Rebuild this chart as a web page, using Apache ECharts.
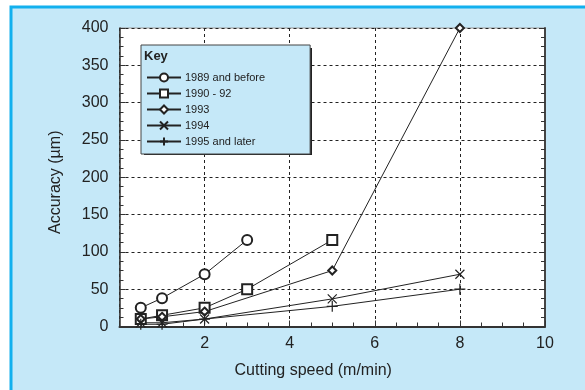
<!DOCTYPE html>
<html>
<head>
<meta charset="utf-8">
<script src="https://cdn.jsdelivr.net/npm/echarts@6/dist/echarts.min.js"></script>
<style>
  html, body { margin: 0; padding: 0; background: #fff; }
  #chart { width: 585px; height: 390px; }
</style>
</head>
<body>
<div id="chart"></div>
<script>
// data
const names = ['1989 and before', '1990 - 92', '1993', '1994', '1995 and later'];
const speed1989 = [0.5, 1, 2, 3];
const acc1989 = [25, 38, 70, 116];
const speed1990 = [0.5, 1, 2, 3, 5];
const acc1990 = [10, 15, 25, 50, 116];
const speed1993 = [0.5, 1, 2, 5, 8];
const acc1993 = [10, 13, 20, 75, 400];
const speed1994 = [0.5, 1, 2, 5, 8];
const acc1994 = [5, 5, 10, 37, 70];
const speed1995 = [0.5, 1, 2, 5, 8];
const acc1995 = [3, 3, 10, 27, 50];

const font = "'Liberation Sans', Arial, sans-serif";
const ink = '#222';
const paleBlue = '#c5e8f8';
const pair = (xs, ys) => xs.map((x, i) => [x, ys[i]]);

// X and + drawn as stroked paths
const crossPath = 'path://M0,0L10,10M10,0L0,10';
const plusPath = 'path://M5,0L5,10M0,5L10,5';

function makeSeries(name, data, symbol, size, stroked) {
  return {
    name: name,
    type: 'line',
    data: data,
    symbol: symbol,
    symbolSize: size,
    showAllSymbol: true,
    lineStyle: { color: ink, width: 1 },
    itemStyle: stroked
      ? { color: 'transparent', borderColor: ink, borderWidth: 1.2 }
      : { color: ink, borderColor: ink, borderWidth: 1 },
    emphasis: { disabled: true },
    z: 3
  };
}

const chart = echarts.init(document.getElementById('chart'));

const option = {
  animation: false,
  textStyle: { fontFamily: font },
  graphic: [
    {
      type: 'rect',
      z: -10,
      shape: { x: 11, y: 7, width: 700, height: 500 },
      style: { fill: paleBlue, stroke: '#12b0ee', lineWidth: 3 }
    },
    {
      // solid drop shadow of the key box
      type: 'rect',
      z: 8,
      shape: { x: 144, y: 48, width: 168, height: 107 },
      style: { fill: '#222' }
    },
    {
      type: 'text',
      left: 144,
      top: 50,
      z: 100,
      style: { text: 'Key', font: 'bold 13px ' + font, fill: ink }
    }
  ],
  grid: {
    left: 119.5,
    right: 40,
    top: 28,
    bottom: 63.5,
    show: true,
    backgroundColor: '#fff',
    borderColor: '#999',
    borderWidth: 1
  },
  legend: {
    orient: 'vertical',
    left: 141,
    top: 45,
    z: 10,
    padding: [27, 45, 7, 5],
    itemWidth: 34,
    itemHeight: 10,
    itemGap: 5,
    backgroundColor: paleBlue,
    borderColor: '#444',
    borderWidth: 1,
    selectedMode: false,
    textStyle: { fontFamily: font, fontSize: 11, color: ink, padding: [0, 0, 0, -1] },
    data: names
  },
  xAxis: [
    {
      type: 'value',
      min: 0,
      max: 10,
      interval: 2,
      name: 'Cutting speed (m/min)',
      nameLocation: 'middle',
      nameGap: 36,
      nameTextStyle: { fontSize: 16, color: ink, padding: [0, 38, 0, 0] },
      axisLine: { lineStyle: { color: '#333', width: 2 } },
      axisTick: { inside: true, length: 6, lineStyle: { color: '#333' } },
      minorTick: { show: true, splitNumber: 4, length: 4, lineStyle: { color: '#333' } },
      axisLabel: {
        fontSize: 16,
        color: ink,
        margin: 9,
        formatter: v => (v === 0 ? '' : v)
      },
      splitLine: { show: true, lineStyle: { color: ink, type: [3, 3], width: 1 } }
    }
  ],
  yAxis: [
    {
      type: 'value',
      min: 0,
      max: 400,
      interval: 50,
      name: 'Accuracy (µm)',
      nameLocation: 'middle',
      nameGap: 56,
      nameTextStyle: { fontSize: 16, color: ink, padding: [0, 0, 0, -10] },
      axisLine: { show: true, lineStyle: { color: '#333', width: 1.5 } },
      axisTick: { show: true, inside: true, length: 6, lineStyle: { color: '#333' } },
      minorTick: { show: true, splitNumber: 4, length: 4, lineStyle: { color: '#333' } },
      axisLabel: { fontSize: 16, color: ink, margin: 11 },
      splitLine: { show: true, lineStyle: { color: ink, type: [3, 3], width: 1 } }
    },
    {
      type: 'value',
      min: 0,
      max: 400,
      interval: 50,
      position: 'right',
      axisLine: { show: true, lineStyle: { color: '#444', width: 2 } },
      axisTick: { show: true, inside: true, length: 6, lineStyle: { color: '#333' } },
      minorTick: { show: true, splitNumber: 4, length: 4, lineStyle: { color: '#333' } },
      axisLabel: { show: false },
      splitLine: { show: false }
    }
  ],
  series: [
    makeSeries(names[0], pair(speed1989, acc1989), 'emptyCircle', 10, false),
    makeSeries(names[1], pair(speed1990, acc1990), 'emptyRect', 10, false),
    makeSeries(names[2], pair(speed1993, acc1993), 'emptyDiamond', 8, false),
    makeSeries(names[3], pair(speed1994, acc1994), crossPath, 9, true),
    makeSeries(names[4], pair(speed1995, acc1995), plusPath, 11, true)
  ]
};

chart.setOption(option);
</script>
</body>
</html>
